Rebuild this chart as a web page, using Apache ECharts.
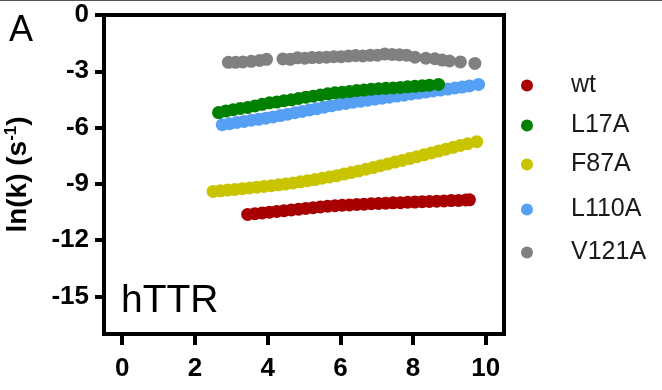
<!DOCTYPE html>
<html>
<head>
<meta charset="utf-8">
<script src="https://cdn.jsdelivr.net/npm/echarts@6/dist/echarts.min.js"></script>
<style>html,body{margin:0;padding:0;background:#fff}#c{width:662px;height:390px}</style>
</head>
<body>
<div id="c"></div>
<script>
var seriesNames = ['wt', 'L17A', 'F87A', 'L110A', 'V121A'];
var xTicks = [0, 2, 4, 6, 8, 10];
var yTicks = [0, -3, -6, -9, -12, -15];

var wtData = [[3.45,-10.63],[3.65,-10.59],[3.85,-10.55],[4.05,-10.51],[4.25,-10.47],[4.45,-10.43],[4.65,-10.39],[4.85,-10.35],[5.05,-10.31],[5.25,-10.27],[5.45,-10.23],[5.65,-10.19],[5.85,-10.16],[6.05,-10.14],[6.25,-10.12],[6.45,-10.10],[6.65,-10.08],[6.85,-10.06],[7.05,-10.04],[7.25,-10.03],[7.45,-10.01],[7.65,-10.00],[7.85,-9.98],[8.05,-9.97],[8.25,-9.95],[8.45,-9.94],[8.65,-9.92],[8.85,-9.91],[9.05,-9.89],[9.25,-9.88],[9.45,-9.86],[9.55,-9.85]];

var l17aData = [[2.65,-5.20],[2.85,-5.12],[3.05,-5.05],[3.25,-4.98],[3.45,-4.93],[3.65,-4.85],[3.85,-4.76],[4.05,-4.68],[4.25,-4.64],[4.45,-4.57],[4.65,-4.52],[4.85,-4.45],[5.05,-4.38],[5.25,-4.33],[5.45,-4.26],[5.65,-4.20],[5.85,-4.15],[6.05,-4.12],[6.25,-4.08],[6.45,-4.03],[6.65,-4.00],[6.85,-3.96],[7.05,-3.93],[7.25,-3.91],[7.45,-3.89],[7.65,-3.86],[7.85,-3.83],[8.05,-3.80],[8.25,-3.77],[8.45,-3.74],[8.70,-3.70]];

var f87aData = [[2.5,-9.40],[2.7,-9.37],[2.9,-9.33],[3.1,-9.30],[3.3,-9.26],[3.5,-9.22],[3.7,-9.18],[3.9,-9.14],[4.1,-9.10],[4.3,-9.05],[4.5,-9.00],[4.7,-8.95],[4.9,-8.89],[5.1,-8.83],[5.3,-8.77],[5.5,-8.70],[5.7,-8.63],[5.9,-8.56],[6.1,-8.48],[6.3,-8.40],[6.5,-8.31],[6.7,-8.22],[6.9,-8.13],[7.1,-8.03],[7.3,-7.94],[7.5,-7.84],[7.7,-7.75],[7.9,-7.65],[8.1,-7.55],[8.3,-7.45],[8.5,-7.35],[8.7,-7.25],[8.9,-7.15],[9.1,-7.05],[9.3,-6.95],[9.5,-6.86],[9.75,-6.75]];

var l110aData = [[2.75,-5.85],[2.95,-5.79],[3.15,-5.73],[3.35,-5.67],[3.55,-5.61],[3.75,-5.56],[3.95,-5.50],[4.15,-5.43],[4.35,-5.36],[4.55,-5.29],[4.75,-5.21],[4.95,-5.14],[5.15,-5.06],[5.35,-4.99],[5.55,-4.91],[5.75,-4.84],[5.95,-4.77],[6.15,-4.71],[6.35,-4.65],[6.55,-4.60],[6.75,-4.54],[6.95,-4.49],[7.15,-4.43],[7.35,-4.38],[7.55,-4.32],[7.75,-4.27],[7.95,-4.21],[8.15,-4.16],[8.35,-4.11],[8.55,-4.05],[8.75,-4.00],[8.95,-3.95],[9.15,-3.89],[9.35,-3.84],[9.55,-3.78],[9.80,-3.70]];

var v121aData = [[2.92,-2.52],[3.12,-2.52],[3.32,-2.50],[3.55,-2.47],[3.78,-2.42],[3.97,-2.36],[4.42,-2.34],[4.62,-2.36],[4.82,-2.28],[5.02,-2.30],[5.22,-2.27],[5.42,-2.26],[5.62,-2.25],[5.82,-2.22],[6.02,-2.22],[6.22,-2.19],[6.42,-2.16],[6.62,-2.18],[6.82,-2.15],[7.02,-2.14],[7.22,-2.08],[7.42,-2.10],[7.62,-2.12],[7.82,-2.14],[8.05,-2.25],[8.35,-2.30],[8.60,-2.33],[8.80,-2.40],[9.00,-2.45],[9.30,-2.50],[9.70,-2.58]];

var colors = ['#a80000', '#008000', '#c8c400', '#55a0f5', '#808080'];
var allData = [wtData, l17aData, f87aData, l110aData, v121aData];
var zOrder = [2, 5, 2, 3, 2];
var legendCenters = [85, 125, 164, 209, 252];

var FONT = '"Liberation Sans", Arial, Helvetica, sans-serif';

var chart = echarts.init(document.getElementById('c'), null, {renderer: 'canvas'});

var legends = seriesNames.map(function (n, i) {
  return {
    data: [n],
    orient: 'vertical',
    left: 516,
    top: legendCenters[i] - 17,
    icon: 'circle',
    itemWidth: 12,
    itemHeight: 12,
    selectedMode: false,
    textStyle: {fontFamily: FONT, fontSize: 25, color: '#1a1a1a', padding: [0, 0, 0, 33], lineHeight: 24}
  };
});

var series = seriesNames.map(function (n, i) {
  return {
    name: n,
    type: 'scatter',
    data: allData[i],
    symbol: 'circle',
    symbolSize: 13,
    z: zOrder[i],
    itemStyle: {color: colors[i], opacity: 1},
    emphasis: {disabled: true},
    silent: true
  };
});

chart.setOption({
  animation: false,
  backgroundColor: '#fff',
  color: colors,
  grid: {left: 104, right: 158, top: 15, bottom: 56, containLabel: false, outerBoundsMode: 'none', show: true, borderColor: '#000', borderWidth: 4, backgroundColor: 'transparent'},
  legend: legends,
  xAxis: {
    type: 'value', min: -0.5, max: 10.5,
    axisLine: {show: true, onZero: false, lineStyle: {color: '#000', width: 4}},
    axisTick: {show: true, length: 11, lineStyle: {color: '#000', width: 4}, customValues: xTicks},
    axisLabel: {customValues: xTicks, margin: 22, fontFamily: FONT, fontSize: 26, fontWeight: 'bold', color: '#000'},
    splitLine: {show: false}
  },
  yAxis: {
    type: 'value', min: -17, max: 0,
    axisLine: {show: true, onZero: false, lineStyle: {color: '#000', width: 4}},
    axisTick: {show: true, length: 9, lineStyle: {color: '#000', width: 4}, customValues: yTicks},
    axisLabel: {customValues: yTicks, margin: 15, fontFamily: FONT, fontSize: 26, fontWeight: 'bold', color: '#000'},
    splitLine: {show: false},
    name: 'ln(k) (s{sup|-1})',
    nameLocation: 'middle',
    nameGap: 71,
    nameTextStyle: {
      fontFamily: FONT, fontSize: 28, fontWeight: 'bold', color: '#000',
      rich: {sup: {fontFamily: FONT, fontSize: 17, fontWeight: 'bold', color: '#000', verticalAlign: 'top', padding: [0, 0, 13, 0]}}
    }
  },
  graphic: [
    {type: 'rect', shape: {x: 0, y: 0, width: 662, height: 1}, style: {fill: '#555'}},
    {type: 'text', style: {x: 9, y: 31, text: 'A', fontFamily: FONT, fontSize: 36, fill: '#000', textVerticalAlign: 'middle', verticalAlign: 'middle'}},
    {type: 'text', style: {x: 121, y: 301, text: 'hTTR', fontFamily: FONT, fontSize: 39, fill: '#000', textVerticalAlign: 'middle', verticalAlign: 'middle'}}
  ],
  series: series
});
</script>
</body>
</html>
